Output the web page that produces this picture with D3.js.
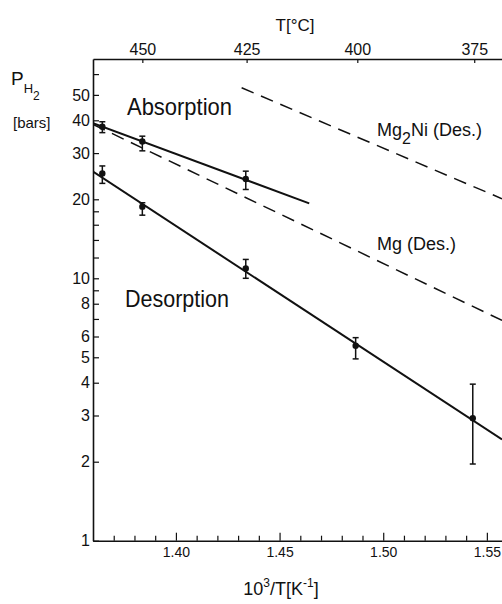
<!DOCTYPE html>
<html><head><meta charset="utf-8">
<script src="https://cdn.jsdelivr.net/npm/d3@7/dist/d3.min.js"></script>
<style>
body{margin:0;background:#fff;}
text{font-family:"Liberation Sans",Arial,Helvetica,sans-serif;fill:#111;}
</style>
</head><body>
<svg id="c" width="502" height="604"></svg>
<script>
// ---- data (10^3/T in K^-1, pressure in bars) ----
const absorptionX  = [1.3645, 1.3838, 1.4337];
const absorptionP  = [37.8, 33.2, 23.9];
const absorptionLo = [35.9, 30.6, 21.8];
const absorptionHi = [39.5, 34.8, 25.6];

const desorptionX  = [1.3645, 1.3838, 1.4337, 1.4867, 1.5432];
const desorptionP  = [25.1, 18.75, 10.9, 5.53, 2.93];
const desorptionLo = [23.0, 17.4, 10.0, 4.93, 1.96];
const desorptionHi = [26.8, 19.4, 11.8, 5.94, 3.95];

const absorptionFitX = [1.36, 1.4643];
const absorptionFitP = [38.97, 19.3];
const desorptionFitX = [1.36, 1.5573];
const desorptionFitP = [25.5, 2.43];
const mgDesX   = [1.36, 1.5573];
const mgDesP   = [38.6, 6.91];
const mg2NiDesX = [1.4317, 1.5573];
const mg2NiDesP = [53.2, 20.1];

const yTickValues = [1, 2, 3, 4, 5, 6, 8, 10, 20, 30, 40, 50];
const yMinorTicks = [7, 9, 12, 14, 16, 18, 60];
const xMajorTicks = [1.40, 1.45, 1.50, 1.55];
const xMinorTicks = [1.37, 1.38, 1.39, 1.41, 1.42, 1.43, 1.44, 1.46, 1.47, 1.48, 1.49, 1.51, 1.52, 1.53, 1.54];
const topTickX = [1.3838, 1.4341, 1.4875, 1.5439];
const topTickLabels = ["450", "425", "400", "375"];

// ---- layout ----
const svg = d3.select("#c");
const mL = 93, mR = 502, mT = 59, mB = 540.7;
const x = d3.scaleLinear().domain([1.36, 1.5573]).range([mL, mR]);
const y = d3.scaleLog().domain([1, 68.5]).range([mB, mT]);
const ink = "#111";

svg.append("defs").append("clipPath").attr("id", "plot")
  .append("rect").attr("x", mL).attr("y", mT).attr("width", mR - mL).attr("height", mB - mT);

// axes
const gL = svg.append("g").attr("transform", `translate(${mL},0)`)
  .call(d3.axisLeft(y).tickValues(yTickValues).tickFormat(d3.format("d")).tickSize(-6).tickSizeOuter(0).tickPadding(3));
const gLm = svg.append("g").attr("transform", `translate(${mL},0)`)
  .call(d3.axisLeft(y).tickValues(yMinorTicks).tickFormat("").tickSize(-6).tickSizeOuter(0));
gLm.select(".domain").remove();

const gB = svg.append("g").attr("transform", `translate(0,${mB})`)
  .call(d3.axisBottom(x).tickValues(xMajorTicks).tickFormat(d3.format(".2f")).tickSize(-8).tickSizeOuter(0).tickPadding(6));
const gBm = svg.append("g").attr("transform", `translate(0,${mB})`)
  .call(d3.axisBottom(x).tickValues(xMinorTicks).tickFormat("").tickSize(-5).tickSizeOuter(0));
gBm.select(".domain").remove();

const gT = svg.append("g").attr("transform", `translate(0,${mT})`)
  .call(d3.axisTop(x).tickValues(topTickX).tickFormat((d, i) => topTickLabels[i]).tickSize(-4).tickSizeOuter(0).tickPadding(4));

svg.selectAll(".domain").attr("stroke", ink).attr("stroke-width", 1.6);
svg.selectAll(".tick line").attr("stroke", ink).attr("stroke-width", 1.2);
gL.selectAll("text").attr("font-size", 16).attr("fill", ink).style("font-family", '"Liberation Sans",Arial,sans-serif');
gB.selectAll("text").attr("font-size", 14).attr("fill", ink).style("font-family", '"Liberation Sans",Arial,sans-serif');
gT.selectAll("text").attr("font-size", 16).attr("fill", ink).style("font-family", '"Liberation Sans",Arial,sans-serif');

// lines
const plot = svg.append("g").attr("clip-path", "url(#plot)");
const line = d3.line().x(d => x(d[0])).y(d => y(d[1]));
function drawLine(xs, ps, dashed, w) {
  plot.append("path").datum(xs.map((v, i) => [v, ps[i]]))
    .attr("d", line).attr("fill", "none").attr("stroke", ink)
    .attr("stroke-width", w).attr("stroke-dasharray", dashed ? "13,8" : null);
}
drawLine(mgDesX, mgDesP, true, 1.5);
drawLine(mg2NiDesX, mg2NiDesP, true, 1.5);
drawLine(absorptionFitX, absorptionFitP, false, 2);
drawLine(desorptionFitX, desorptionFitP, false, 2);

// points with error bars
function drawPoints(xs, ps, lo, hi) {
  const g = svg.append("g");
  xs.forEach((xv, i) => {
    const cx = x(xv);
    g.append("line").attr("x1", cx).attr("x2", cx).attr("y1", y(lo[i])).attr("y2", y(hi[i]))
      .attr("stroke", ink).attr("stroke-width", 1.5);
    [lo[i], hi[i]].forEach(v => g.append("line").attr("x1", cx - 3).attr("x2", cx + 3)
      .attr("y1", y(v)).attr("y2", y(v)).attr("stroke", ink).attr("stroke-width", 1.5));
    g.append("circle").attr("cx", cx).attr("cy", y(ps[i])).attr("r", 3.2).attr("fill", ink);
  });
}
drawPoints(absorptionX, absorptionP, absorptionLo, absorptionHi);
drawPoints(desorptionX, desorptionP, desorptionLo, desorptionHi);

// labels
svg.append("text").attr("x", 295).attr("y", 31).attr("text-anchor", "middle").attr("font-size", 17).text("T[°C]");

const ph = svg.append("text").attr("x", 11).attr("y", 85).attr("font-size", 19);
ph.append("tspan").text("P");
ph.append("tspan").attr("font-size", 13).attr("dy", 8).text("H");
ph.append("tspan").attr("font-size", 12).attr("dy", 7).text("2");
svg.append("text").attr("x", 13).attr("y", 128).attr("font-size", 15).text("[bars]");

svg.append("text").attr("x", 127).attr("y", 115).attr("font-size", 24)
  .attr("textLength", 105).attr("lengthAdjust", "spacingAndGlyphs").text("Absorption");
svg.append("text").attr("x", 125).attr("y", 307).attr("font-size", 24)
  .attr("textLength", 104).attr("lengthAdjust", "spacingAndGlyphs").text("Desorption");

const m2 = svg.append("text").attr("x", 377).attr("y", 136).attr("font-size", 18);
m2.append("tspan").text("Mg");
m2.append("tspan").attr("dy", 8).attr("font-size", 16).text("2");
m2.append("tspan").attr("dy", -8).text("Ni  (Des.)");
svg.append("text").attr("x", 377).attr("y", 250).attr("font-size", 18).text("Mg (Des.)");

const xt = svg.append("text").attr("x", 281).attr("y", 595).attr("text-anchor", "middle").attr("font-size", 18);
xt.append("tspan").text("10");
xt.append("tspan").attr("dy", -8).attr("font-size", 12).text("3");
xt.append("tspan").attr("dy", 8).text("/T[K");
xt.append("tspan").attr("dy", -8).attr("font-size", 12).text("-1");
xt.append("tspan").attr("dy", 8).text("]");
</script>
</body></html>
